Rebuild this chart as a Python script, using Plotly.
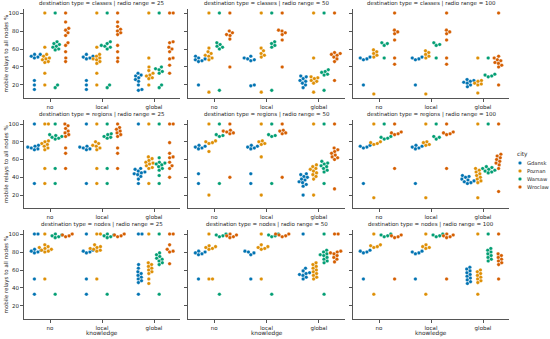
import math
import plotly.graph_objects as go

# ---------------- data (values in %) ----------------
knowledge = ["no", "local", "global"]
cities = ["Gdansk", "Poznan", "Warsaw", "Wroclaw"]
dest_types = ["classes", "regions", "nodes"]
radio_ranges = [25, 50, 100]
colors = ["#0173b2", "#de8f05", "#029e73", "#d55e00"]

# each list: [no, local, global]
classes_25_Gdansk = [[54, 54, 52, 51, 50, 25, 20, 15], [54, 52, 51, 50, 49, 25, 20, 15], [33, 31, 30, 28, 26, 24, 20, 15, 14]]
classes_25_Poznan = [[100, 62, 54, 52, 50, 49, 48, 46, 45, 33, 20], [100, 62, 54, 52, 50, 49, 48, 46, 44, 33, 20], [100, 50, 40, 36, 33, 31, 30, 28, 27, 20]]
classes_25_Warsaw = [[100, 68, 66, 65, 63, 62, 60, 59, 20, 17], [100, 68, 66, 64, 63, 62, 60, 20, 17], [100, 40, 38, 37, 35, 33, 20, 17]]
classes_25_Wroclaw = [[100, 90, 83, 81, 78, 75, 67, 64, 57, 50, 46], [100, 90, 85, 82, 80, 78, 76, 64, 57, 50, 46], [100, 100, 68, 67, 62, 60, 57, 50, 49, 42, 33]]

classes_50_Gdansk = [[52, 50, 49, 48, 47, 46, 20], [52, 50, 49, 48, 47, 20, 19], [30, 29, 27, 25, 24, 22, 20, 17]]
classes_50_Poznan = [[100, 61, 57, 55, 53, 52, 50, 48, 12], [100, 61, 58, 55, 53, 51, 12], [100, 50, 29, 28, 27, 25, 24, 22, 12]]
classes_50_Warsaw = [[100, 67, 65, 63, 62, 60, 14], [100, 68, 66, 64, 62, 14], [100, 37, 35, 34, 32, 31, 14]]
classes_50_Wroclaw = [[100, 80, 78, 76, 75, 71, 40], [100, 81, 80, 78, 76, 70, 40], [100, 56, 55, 54, 53, 51, 49, 46, 25]]

classes_100_Gdansk = [[51, 50, 49, 48, 20], [51, 50, 49, 48, 20], [26, 25, 24, 23, 22, 20, 18]]
classes_100_Poznan = [[59, 57, 55, 53, 51, 10], [58, 56, 54, 52, 50, 10], [50, 25, 24, 22, 21, 20, 11]]
classes_100_Warsaw = [[67, 66, 64, 50], [67, 65, 64, 50], [50, 32, 31, 30, 29]]
classes_100_Wroclaw = [[100, 81, 79, 77, 70, 50, 43], [100, 81, 79, 77, 70, 50, 43], [100, 52, 50, 48, 47, 45, 44, 42, 40, 20]]

regions_25_Gdansk = [[100, 76, 75, 74, 73, 72, 71, 33], [100, 75, 74, 73, 72, 71, 33], [100, 50, 49, 47, 46, 45, 44, 43, 41, 38, 33]]
regions_25_Poznan = [[100, 100, 81, 80, 78, 77, 75, 73, 71, 50, 33], [100, 80, 78, 76, 75, 73, 71, 50, 33], [100, 63, 61, 59, 57, 56, 55, 53, 51, 50, 33]]
regions_25_Warsaw = [[100, 88, 87, 86, 85, 84, 83, 50, 33], [100, 89, 88, 86, 85, 84, 50, 33], [100, 62, 57, 56, 55, 54, 52, 50, 48, 42, 33]]
regions_25_Wroclaw = [[100, 98, 95, 92, 90, 88, 86, 73, 67, 50], [100, 96, 94, 92, 90, 88, 86, 73, 67, 50], [100, 100, 79, 67, 63, 62, 57, 53, 50, 40]]

regions_50_Gdansk = [[76, 75, 74, 73, 72, 44, 33], [76, 75, 74, 73, 72, 44, 33], [44, 43, 41, 40, 38, 37, 35, 34, 32, 30, 20]]
regions_50_Poznan = [[100, 81, 80, 79, 78, 69, 20], [100, 81, 80, 78, 77, 63, 20], [100, 54, 52, 50, 49, 47, 45, 43, 41, 38, 20]]
regions_50_Warsaw = [[100, 88, 87, 86, 33], [100, 88, 87, 86, 33], [100, 58, 56, 55, 53, 52, 50, 48, 46, 33]]
regions_50_Wroclaw = [[100, 93, 92, 91, 90, 89, 40], [100, 93, 92, 90, 89, 40], [100, 73, 71, 69, 67, 65, 63, 62, 60, 27]]

regions_100_Gdansk = [[76, 75, 74, 73, 33], [76, 75, 74, 73, 72, 33], [42, 41, 40, 38, 37, 36, 35, 34, 33]]
regions_100_Poznan = [[100, 80, 79, 78, 77, 17], [100, 80, 79, 77, 76, 17], [100, 50, 48, 46, 44, 42, 40, 38, 36, 34, 17]]
regions_100_Warsaw = [[100, 86, 85, 84, 83], [100, 86, 85, 83], [100, 52, 51, 50, 49, 48, 47, 46, 45]]
regions_100_Wroclaw = [[100, 91, 90, 89, 88, 50], [100, 91, 90, 89, 88, 50], [100, 66, 64, 62, 60, 58, 56, 54, 50, 24]]

nodes_25_Gdansk = [[100, 100, 83, 82, 81, 80, 79, 50, 33], [100, 82, 81, 80, 79, 50, 33], [100, 100, 66, 62, 58, 56, 54, 52, 50, 48, 46, 33]]
nodes_25_Poznan = [[100, 88, 86, 85, 84, 83, 82, 81, 80, 50], [100, 100, 88, 86, 85, 84, 83, 82, 81, 50], [100, 68, 66, 64, 62, 60, 58, 56, 50, 45]]
nodes_25_Warsaw = [[100, 99, 98, 97, 96, 33], [100, 99, 98, 97, 96, 33], [100, 79, 77, 75, 73, 72, 70, 68, 66, 33]]
nodes_25_Wroclaw = [[100, 99, 98, 97], [100, 99, 98, 97], [100, 100, 88, 83, 81, 80, 67]]

nodes_50_Gdansk = [[81, 80, 79, 78, 77, 50], [81, 80, 79, 77, 50], [100, 62, 59, 57, 56, 55, 54, 52, 50]]
nodes_50_Poznan = [[100, 87, 86, 85, 84, 83, 50, 50], [100, 88, 86, 85, 84, 83, 50], [68, 66, 64, 62, 60, 58, 56, 54, 52, 50]]
nodes_50_Warsaw = [[100, 99, 98, 97, 33], [100, 99, 98, 97, 33], [100, 82, 80, 78, 77, 76, 74, 72, 70, 68, 33]]
nodes_50_Wroclaw = [[100, 99, 98, 97, 96], [100, 100, 99, 98, 97], [100, 100, 81, 80, 79, 78, 76, 74, 72, 69]]

nodes_100_Gdansk = [[82, 81, 80, 79, 50], [81, 80, 79, 78, 50], [63, 61, 59, 57, 55, 53, 51, 49, 47, 45]]
nodes_100_Poznan = [[100, 88, 87, 86, 85, 33], [100, 88, 86, 85, 84, 33], [100, 60, 58, 56, 54, 52, 50, 48, 46, 33]]
nodes_100_Warsaw = [[100, 99, 98, 97], [100, 99, 98, 97], [100, 84, 82, 80, 78, 76, 74, 72, 70]]
nodes_100_Wroclaw = [[99, 98, 97, 96, 50], [100, 99, 98, 97, 96, 50], [100, 78, 76, 74, 72, 70, 68, 66, 50]]

# ---------------- layout geometry ----------------
W, H = 550, 339
ML, MR, MT, MB = 24, 41, 9, 20
PW, PH = W - ML - MR, H - MT - MB
col_px = [(24, 180), (188, 345), (353, 509)]
row_px = [(9, 98), (120, 208), (230, 319)]
Y_RANGE = [5.5, 104.5]
hue_offsets = [-0.3, -0.1, 0.1, 0.3]
DIAM = 3.6  # px


def px2x(p):
    return (p - ML) / PW


def px2y(p):
    return (H - MB - p) / PH


def xdom(c):
    a, b = col_px[c]
    return [px2x(a), px2x(b)]


def ydom(r):
    a, b = row_px[r]
    return [px2y(b), px2y(a)]


def swarm(vals, px_per_y, d):
    ys = [v * px_per_y for v in vals]
    order = sorted(range(len(vals)), key=lambda i: ys[i])
    placed = []
    offs = [0.0] * len(vals)
    for i in order:
        y = ys[i]
        cands = [0.0]
        for (px, py) in placed:
            dy = y - py
            if abs(dy) < d:
                dx = math.sqrt(d * d - dy * dy)
                cands += [px + dx, px - dx]
        cands.sort(key=abs)
        for c in cands:
            if all((c - px) ** 2 + (y - py) ** 2 >= d * d - 1e-6 for px, py in placed):
                offs[i] = c
                placed.append((c, y))
                break
    return offs


data = {}
for dt in dest_types:
    for rr in radio_ranges:
        for city in cities:
            data[(dt, rr, city)] = globals()[f"{dt}_{rr}_{city}"]

fig = go.Figure()
font = "DejaVu Sans"
axis_col = "#555555"
txt_col = "#262626"

for r, dt in enumerate(dest_types):
    for c, rr in enumerate(radio_ranges):
        idx = r * 3 + c + 1
        xa = "x" if idx == 1 else f"x{idx}"
        ya = "y" if idx == 1 else f"y{idx}"
        x0, x1 = col_px[c]
        y0, y1 = row_px[r]
        px_per_cat = (x1 - x0) / 3.0
        px_per_y = (y1 - y0) / (Y_RANGE[1] - Y_RANGE[0])
        for h, city in enumerate(cities):
            groups = data[(dt, rr, city)]
            xs, ys = [], []
            for k, vals in enumerate(groups):
                offs = swarm(vals, px_per_y, DIAM)
                for v, o in zip(vals, offs):
                    xs.append(k + hue_offsets[h] + o / px_per_cat)
                    ys.append(v)
            fig.add_trace(go.Scatter(
                x=xs, y=ys, mode="markers", xaxis=xa, yaxis=ya,
                name=city, showlegend=False,
                marker=dict(color=colors[h], size=DIAM,
                            line=dict(color="white", width=0.3)),
                hoverinfo="skip"))
        common = dict(showline=True, linecolor=axis_col, linewidth=1,
                      ticks="outside", ticklen=3, tickwidth=0.8, tickcolor=axis_col,
                      showgrid=False, zeroline=False, automargin=False,
                      tickfont=dict(family=font, size=5.5, color=txt_col))
        fig.layout[f"xaxis{'' if idx == 1 else idx}"] = dict(
            domain=xdom(c), anchor=ya, range=[-0.5, 2.5],
            tickmode="array", tickvals=[0, 1, 2], ticktext=knowledge,
            **common)
        fig.layout[f"yaxis{'' if idx == 1 else idx}"] = dict(
            domain=ydom(r), anchor=xa, range=Y_RANGE,
            tickmode="array", tickvals=[20, 40, 60, 80, 100],
            showticklabels=(c == 0), **common)
        # panel title
        fig.add_annotation(
            text=f"destination type = {dt} | radio range = {rr}",
            xref="paper", yref="paper",
            x=(sum(xdom(c)) / 2), y=px2y(y0),
            xanchor="center", yanchor="bottom", showarrow=False,
            font=dict(family=font, size=5.5, color=txt_col))
        if c == 0:
            fig.add_annotation(
                text="mobile relays to all nodes %", textangle=-90,
                xref="paper", yref="paper",
                x=px2x(6), y=sum(ydom(r)) / 2,
                xanchor="center", yanchor="middle", showarrow=False,
                font=dict(family=font, size=5.5, color=txt_col))
        if r == 2:
            fig.add_annotation(
                text="knowledge", xref="paper", yref="paper",
                x=sum(xdom(c)) / 2, y=px2y(333),
                xanchor="center", yanchor="middle", showarrow=False,
                font=dict(family=font, size=5.8, color=txt_col))

# manual legend (compact, like seaborn's)
fig.add_annotation(text="city", xref="paper", yref="paper",
                   x=px2x(515), y=px2y(154), xanchor="left", yanchor="middle",
                   showarrow=False, font=dict(family=font, size=5.8, color=txt_col))
for h, city in enumerate(cities):
    yc = 163 + 8 * h
    fig.add_shape(type="circle", xref="paper", yref="paper",
                  xsizemode="pixel", ysizemode="pixel",
                  xanchor=px2x(520), yanchor=px2y(yc),
                  x0=-1.8, x1=1.8, y0=-1.8, y1=1.8,
                  fillcolor=colors[h], line=dict(color="white", width=0.3))
    fig.add_annotation(text=city, xref="paper", yref="paper",
                       x=px2x(525), y=px2y(yc), xanchor="left", yanchor="middle",
                       showarrow=False, font=dict(family=font, size=5.2, color=txt_col))

fig.update_layout(
    width=W, height=H, margin=dict(l=ML, r=MR, t=MT, b=MB, autoexpand=False),
    plot_bgcolor="white", paper_bgcolor="white", showlegend=False,
)

fig.write_html("out.html", config={"displayModeBar": False},
               post_script="document.body.style.margin='0';")
